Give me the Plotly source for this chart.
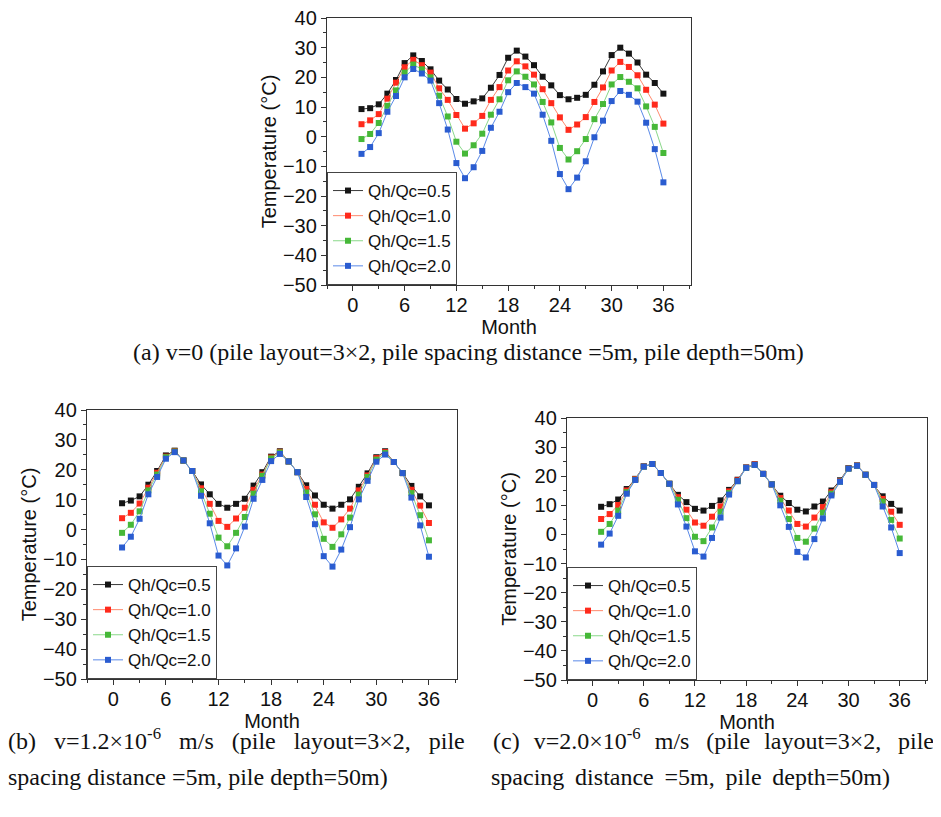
import plotly.graph_objects as go

months = [1, 2, 3, 4, 5, 6, 7, 8, 9, 10, 11, 12, 13, 14, 15, 16, 17, 18,
          19, 20, 21, 22, 23, 24, 25, 26, 27, 28, 29, 30, 31, 32, 33, 34, 35, 36]
series_labels = ["Qh/Qc=0.5", "Qh/Qc=1.0", "Qh/Qc=1.5", "Qh/Qc=2.0"]
x_ticks = [0, 6, 12, 18, 24, 30, 36]
y_ticks = [40, 30, 20, 10, 0, -10, -20, -30, -40, -50]

# (a) v = 0
a_05 = [9.3, 9.6, 10.9, 14.5, 19.1, 24.8, 27.4, 25.5, 22.7, 18.9, 15.9, 12.7, 11.1, 11.9, 12.9, 16.5, 20.8, 26.6,
        29.0, 27.0, 24.1, 20.2, 17.3, 14.0, 12.6, 13.1, 14.1, 17.5, 22.0, 27.5, 30.0, 28.0, 25.0, 20.9, 18.1, 14.5]
a_10 = [4.2, 5.5, 7.6, 12.8, 18.2, 23.4, 25.9, 24.1, 21.6, 16.3, 12.4, 7.3, 2.7, 4.5, 7.0, 12.4, 16.7, 22.3,
        25.4, 23.7, 20.9, 16.0, 11.3, 6.5, 2.3, 4.1, 6.6, 11.7, 16.6, 22.3, 25.2, 23.5, 20.7, 15.8, 10.8, 4.4]
a_15 = [-0.8, 0.9, 4.6, 10.4, 15.6, 21.6, 24.3, 22.7, 20.0, 13.8, 6.8, -1.7, -5.7, -2.9, 1.0, 7.4, 12.6, 19.0,
        22.0, 20.2, 17.6, 11.7, 4.8, -3.8, -7.7, -4.9, -0.8, 5.9, 11.0, 17.6, 20.1, 18.5, 16.3, 10.2, 3.3, -5.5]
a_20 = [-5.8, -3.5, 1.2, 8.4, 13.7, 20.0, 22.8, 21.3, 18.9, 11.3, 2.4, -8.9, -14.0, -10.3, -4.8, 3.0, 8.4, 15.0,
        18.1, 16.7, 14.5, 7.4, -1.4, -12.6, -17.7, -13.8, -8.3, -0.2, 5.4, 12.0, 15.4, 14.1, 11.8, 4.7, -4.2, -15.4]

# (b) v = 1.2e-6 m/s
b_05 = [8.8, 9.7, 11.1, 15.0, 19.6, 24.8, 26.4, 23.1, 19.6, 15.1, 11.8, 8.6, 7.3, 8.6, 10.3, 14.7, 19.2, 24.4,
        26.2, 22.8, 19.2, 14.8, 11.4, 8.3, 7.0, 8.3, 10.1, 14.3, 18.8, 24.2, 26.2, 22.6, 18.9, 14.6, 11.1, 8.1]
b_10 = [3.8, 5.6, 8.7, 14.0, 19.0, 24.4, 26.2, 23.1, 19.6, 13.8, 8.6, 2.9, 0.9, 3.7, 7.3, 13.3, 18.4, 24.1,
        26.0, 22.8, 19.2, 13.6, 8.3, 2.4, 0.6, 3.4, 7.0, 13.1, 18.1, 23.9, 25.9, 22.6, 18.9, 13.3, 8.0, 2.2]
b_15 = [-1.1, 1.6, 6.1, 13.1, 18.4, 24.2, 26.1, 23.1, 19.6, 12.8, 5.3, -2.7, -5.6, -1.1, 4.2, 12.0, 18.0, 23.8,
        25.8, 22.8, 19.2, 12.4, 5.1, -3.1, -5.8, -1.6, 4.0, 11.7, 17.6, 23.4, 25.6, 22.6, 18.9, 12.2, 4.8, -3.6]
b_20 = [-6.0, -2.4, 3.6, 11.8, 17.6, 23.7, 25.9, 23.1, 19.6, 11.3, 2.1, -8.7, -12.0, -6.3, 1.0, 10.3, 16.6, 22.9,
        25.3, 22.8, 19.2, 10.9, 1.8, -8.9, -12.4, -6.7, 0.8, 10.1, 16.3, 22.7, 25.1, 22.6, 18.9, 10.7, 1.4, -9.1]

# (c) v = 2.0e-6 m/s
c_05 = [9.5, 10.4, 12.0, 15.6, 19.1, 23.4, 24.2, 21.1, 17.4, 13.6, 11.1, 8.8, 8.2, 9.8, 11.7, 15.3, 18.8, 23.0,
        24.1, 20.8, 17.2, 13.3, 10.8, 8.5, 7.9, 9.6, 11.3, 15.1, 18.6, 22.8, 23.7, 20.5, 17.0, 13.1, 10.5, 8.2]
c_10 = [5.3, 7.0, 10.1, 15.1, 19.0, 23.4, 24.2, 21.1, 17.4, 12.8, 8.5, 4.1, 3.0, 6.1, 9.6, 14.8, 18.6, 23.0,
        24.1, 20.8, 17.2, 12.5, 8.2, 3.6, 2.7, 5.8, 9.4, 14.5, 18.3, 22.7, 23.7, 20.5, 17.0, 12.2, 7.8, 3.3]
c_15 = [0.9, 3.6, 8.2, 14.5, 18.8, 23.3, 24.2, 21.1, 17.4, 11.9, 5.6, -0.8, -2.3, 2.4, 7.8, 14.2, 18.3, 22.9,
        23.9, 20.8, 17.2, 11.6, 5.3, -1.2, -2.5, 2.0, 7.5, 14.0, 18.1, 22.6, 23.6, 20.5, 17.0, 11.3, 5.0, -1.4]
c_20 = [-3.5, 0.3, 6.4, 14.0, 18.7, 23.3, 24.2, 21.1, 17.4, 10.3, 2.7, -5.8, -7.6, -1.2, 5.8, 13.7, 18.3, 22.9,
        23.9, 20.8, 17.2, 10.0, 2.6, -6.0, -7.9, -1.6, 5.5, 13.4, 18.1, 22.6, 23.6, 20.5, 17.0, 9.6, 2.4, -6.4]

panels = [
    ("x", "y", "legend", [a_05, a_10, a_15, a_20]),
    ("x2", "y2", "legend2", [b_05, b_10, b_15, b_20]),
    ("x3", "y3", "legend3", [c_05, c_10, c_15, c_20]),
]

marker_colors = ["#151515", "#ff2a1c", "#46b838", "#2a5cd0"]
line_colors = ["#3a3a3a", "#ff8a6e", "#8ad88a", "#5a8ae8"]

# page body adds an 8px margin; compensate so positions match screen pixels
OX, OY = 8, 8
W, H = 933, 801
def px(v): return (v - OX) / W
def py(v): return 1 - (v - OY) / H

# pixel boxes of the plot areas (left, right, top, bottom) on screen
boxes = [
    (327, 691, 18, 285),
    (87, 457, 410, 679),
    (567, 927, 418, 680),
]

fig = go.Figure()
for (xa, ya, lg, data) in panels:
    for i, vals in enumerate(data):
        fig.add_trace(go.Scatter(
            x=months, y=vals, xaxis=xa, yaxis=ya, legend=lg,
            mode="lines+markers", name=series_labels[i],
            line=dict(color=line_colors[i], width=1),
            marker=dict(symbol="square", size=6, color=marker_colors[i], line=dict(width=0)),
        ))

font_sans = "Arial, Liberation Sans, sans-serif"
font_serif = "Times New Roman, Liberation Serif, serif"

layout = dict(
    width=W, height=H,
    margin=dict(l=0, r=0, t=0, b=0, pad=0),
    paper_bgcolor="white", plot_bgcolor="white",
    font=dict(family=font_sans, size=20, color="#111111"),
    showlegend=True,
)

for k, (x0, x1, y0, y1) in enumerate(boxes):
    sfx = "" if k == 0 else str(k + 1)
    layout["xaxis" + sfx] = dict(
        domain=[px(x0), px(x1)], anchor="y" + sfx, range=[-3, 39.2], automargin=False,
        tickmode="array", tickvals=x_ticks, ticks="outside", ticklen=5, tickwidth=1.2,
        tickcolor="#333", showline=True, linecolor="#333", linewidth=1.3, mirror=True,
        showgrid=False, zeroline=False, tickfont=dict(size=20),
        ticklabeloverflow="allow", ticklabelstandoff=-3,
        minor=dict(ticks="outside", ticklen=3, dtick=3, tick0=0, tickcolor="#333", showgrid=False),
        title=dict(text="Month", font=dict(size=20), standoff=0),
    )
    layout["yaxis" + sfx] = dict(
        domain=[py(y1), py(y0)], anchor="x" + sfx, range=[-50, 40], automargin=False,
        tickmode="array", tickvals=y_ticks, ticks="outside", ticklen=5, tickwidth=1.2,
        tickcolor="#333", showline=True, linecolor="#333", linewidth=1.3, mirror=True,
        showgrid=False, zeroline=False, tickfont=dict(size=20),
        ticklabeloverflow="allow",
        minor=dict(ticks="outside", ticklen=3, dtick=5, tick0=0, tickcolor="#333", showgrid=False),
        title=dict(text="Temperature (°C)", font=dict(size=20), standoff=0),
    )
    lg = "legend" if k == 0 else "legend" + str(k + 1)
    layout[lg] = dict(
        x=px(x0), y=py(y1), xanchor="left", yanchor="bottom",
        bgcolor="white", bordercolor="#444", borderwidth=1,
        font=dict(size=17, family=font_sans, color="#111"),
        itemwidth=30, tracegroupgap=0,
    )

fig.update_layout(**layout)

sp_b = "\u00a0\u00a0\u00a0"
t_c = "\u00a0\u00a0\u2009"   # wider gap
h_c = "\u00a0\u00a0\u200a"   # narrower gap
sp_c2 = "\u00a0\u2009"
caps = [
    ("(a) v=0 (pile layout=3×2, pile spacing distance =5m, pile depth=50m)", 468, 352, "center"),
    ("(b)" + sp_b + "v=1.2×10<sup>-6</sup>" + sp_b + "m/s" + sp_b + "(pile" + sp_b + "layout=3×2," + sp_b + "pile", 6, 739, "left"),
    ("spacing distance =5m, pile depth=50m)", 6, 777, "left"),
    ("(c)" + h_c + "v=2.0×10<sup>-6</sup>" + h_c + "m/s" + t_c + "(pile" + h_c + "layout=3×2," + t_c + "pile", 491, 739, "left"),
    ("spacing" + sp_c2 + "distance" + sp_c2 + "=5m," + sp_c2 + "pile" + sp_c2 + "depth=50m)", 489, 777, "left"),
]
for text, x, y, anc in caps:
    fig.add_annotation(text=text, x=px(x), y=py(y), xref="paper", yref="paper",
                       xanchor=anc, yanchor="middle", showarrow=False,
                       font=dict(family=font_serif, size=24, color="#111"))

fig.write_html("out.html")
